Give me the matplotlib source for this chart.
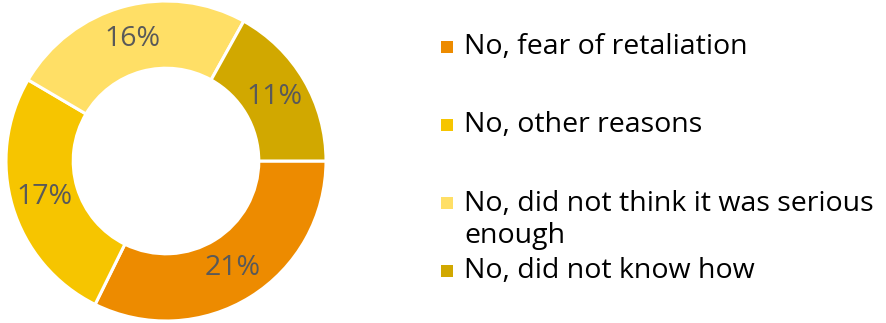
import matplotlib
matplotlib.use("Agg")
import matplotlib.pyplot as plt
from matplotlib.patches import Rectangle

labels = ["No, fear of retaliation", "No, other reasons",
          "No, did not think it was serious\nenough", "No, did not know how"]
values = [21, 17, 16, 11]
colors = ["#ED8B00", "#F6C500", "#FFDF66", "#D1A800"]

W, H = 886, 323
plt.rcParams['font.family'] = ['Open Sans', 'DejaVu Sans']
fig = plt.figure(figsize=(W/100, H/100), dpi=100)

cx, cy, r = 166, 161, 160
ax = fig.add_axes([(cx - r)/W, (H - cy - r)/H, 2*r/W, 2*r/H])
wedges, texts, autotexts = ax.pie(
    values, colors=colors, startangle=0, counterclock=False,
    radius=1, autopct=lambda p: f"{p*sum(values)/100:.0f}%",
    pctdistance=0.79,
    wedgeprops=dict(width=0.42, edgecolor="white", linewidth=2.2),
    textprops=dict(color="#595959", fontsize=20.5))
ax.set_xlim(-1, 1); ax.set_ylim(-1, 1)
ax.set_aspect("equal")
ax.axis("off")

# legend drawn manually to match the layout
ys = [47, 125, 203, 271]
for lab, col, y in zip(labels, colors, ys):
    fig.patches.append(Rectangle((441/W, (H - y - 6)/H), 12/W, 12/H,
                                 transform=fig.transFigure, facecolor=col,
                                 edgecolor="none"))
    ty = y + 17 if "\n" in lab else y
    fig.text(464/W, (H - ty)/H, lab, fontsize=20.5, color="#000000",
             va="center", ha="left", linespacing=1.18)

fig.savefig("out.png", dpi=100)
